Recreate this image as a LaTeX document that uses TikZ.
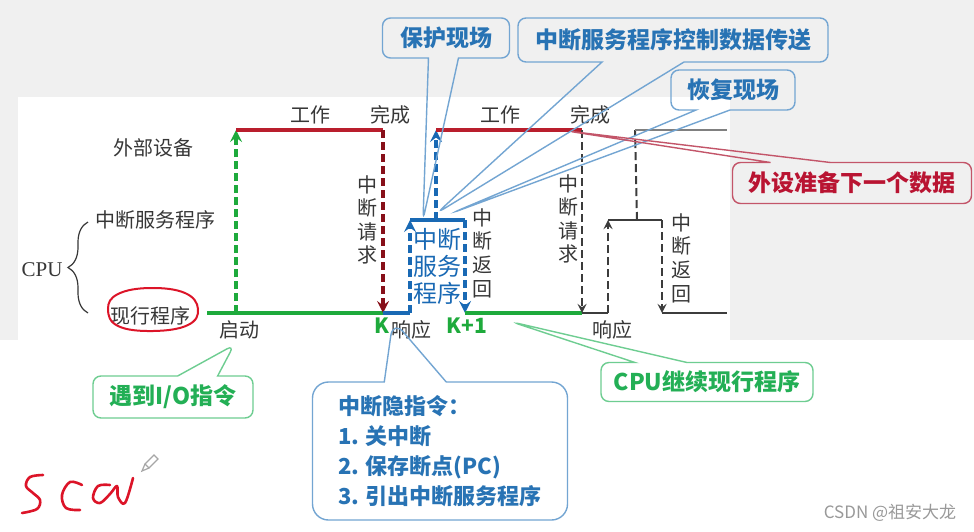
\documentclass[tikz,border=0pt]{standalone}
\usepackage{fontspec}
\setmainfont{Noto Sans CJK SC}
\newfontfamily\serifcpu{Liberation Serif}
\usetikzlibrary{shapes.callouts, decorations.pathreplacing}

\definecolor{pagegray}{RGB}{240,240,240}
\definecolor{labelgray}{RGB}{55,55,55}
\definecolor{darkline}{RGB}{60,60,60}
\definecolor{devred}{RGB}{185,30,45}
\definecolor{reqred}{RGB}{135,15,25}
\definecolor{cpugreen}{RGB}{30,170,60}
\definecolor{isrblue}{RGB}{25,105,180}
\definecolor{noteblue}{RGB}{40,115,180}
\definecolor{noteedge}{RGB}{115,165,210}
\definecolor{notegreen}{RGB}{35,175,85}
\definecolor{greenedge}{RGB}{110,205,145}
\definecolor{notered}{RGB}{185,20,50}
\definecolor{rededge}{RGB}{195,85,105}
\definecolor{handred}{RGB}{220,20,40}

\begin{document}
\begin{tikzpicture}[
    x=0.5pt, y=-0.5pt,
    lbl/.style={font=\fontsize{10}{11.8}\selectfont, text=labelgray, inner sep=0pt, align=center},
    kmark/.style={font=\fontsize{10.5}{12}\selectfont\bfseries, text=cpugreen, inner sep=0pt},
    level/.style={line width=2pt},
    jump/.style={->, >=stealth, dashed, dash pattern=on 4pt off 2pt, line width=1.6pt},
    note/.style={rectangle callout, draw, rounded corners=4pt, line width=0.7pt, inner sep=0pt, font=\fontsize{11.5}{14}\selectfont\bfseries}
]
    % background of the slide
    \fill[pagegray] (0,0) rectangle (974,531);
    \fill[white] (18,97) rectangle (730,340);
    \fill[white] (0,340) rectangle (974,531);

    % time points
    \coordinate (b0) at (207,313);
    \coordinate (st) at (236,313);
    \coordinate (stT) at (236,130);
    \coordinate (kB) at (383,313);
    \coordinate (kT) at (383,130);
    \coordinate (rB) at (410,313);
    \coordinate (rM) at (410,220);
    \coordinate (iM) at (436,220);
    \coordinate (iT) at (436,130);
    \coordinate (eM) at (465,220);
    \coordinate (eB) at (465,313);
    \coordinate (qT) at (582,130);
    \coordinate (qB) at (582,313);
    \coordinate (sB) at (608,313);
    \coordinate (sM) at (608,220);
    \coordinate (pM) at (637,220);
    \coordinate (pT) at (635,130);
    \coordinate (fM) at (662,220);
    \coordinate (fB) at (662,313);
    \coordinate (gT) at (727,130);
    \coordinate (gB) at (727,313);

    % row labels
    \node[lbl] (dev) at (153,148) {外部设备};
    \node[lbl] (isr) at (155,220) {中断服务程序};
    \node[lbl, font=\serifcpu\fontsize{10.5}{12}\selectfont] (cpu) at (42,270) {CPU};
    \node[lbl] (cur) at (150,316) {现行程序};
    \draw[decorate, decoration={brace, amplitude=10pt}, labelgray, line width=0.6pt] (88,313) -- (88,222);
    \draw[handred, line width=1pt] plot[smooth cycle, tension=0.7] coordinates {(108,309) (118,294) (150,288) (185,293) (198,309) (188,325) (153,331) (118,326)};

    % first transfer
    \draw[level, cpugreen] (b0) -- (kB);
    \draw[jump, cpugreen] (st) -- (stT);
    \draw[level, devred] (stT) -- (kT);
    \draw[jump, reqred] (kT) -- (kB);
    \draw[level, isrblue] (kB) -- (rB);
    \draw[jump, isrblue] (rB) -- (rM);
    \draw[level, isrblue] (rM) -- (eM);
    \draw[jump, isrblue] (eM) -- (eB);
    \draw[jump, isrblue] (iM) -- (iT);
    \draw[level, devred] (iT) -- (qT);
    \draw[level, cpugreen] (eB) -- (qB);

    % second transfer
    \draw[jump, darkline, line width=1pt] (qT) -- (qB);
    \draw[darkline, line width=1.1pt] (qB) -- (sB);
    \draw[jump, darkline, line width=1pt] (sB) -- (sM);
    \draw[darkline, line width=1.1pt] (sM) -- (fM);
    \draw[jump, darkline, line width=1pt] (fM) -- (fB);
    \draw[darkline, line width=1.1pt] (fB) -- (gB);
    \draw[dashed, dash pattern=on 4pt off 2pt, darkline, line width=1pt] (pM) -- (pT);
    \draw[gray, line width=1.1pt] (pT) -- (gT);

    % labels on the time line
    \node[lbl] (work1) at (310,115) {工作};
    \node[lbl] (done1) at (390,115) {完成};
    \node[lbl] (work2) at (500,115) {工作};
    \node[lbl] (done2) at (590,115) {完成};
    \node[lbl] (start) at (239,330) {启动};
    \node[lbl] (resp1) at (411,330) {响应};
    \node[lbl] (resp2) at (612,330) {响应};
    \node[kmark] (k) at (382,326) {K};
    \node[kmark] (k1) at (467,326) {K+1};
    \node[lbl] (req1) at (367,220) {中\\断\\请\\求};
    \node[lbl] (req2) at (568,219) {中\\断\\请\\求};
    \node[lbl] (ret1) at (482,253) {中\\断\\返\\回};
    \node[lbl] (ret2) at (681,258) {中\\断\\返\\回};
    \node[lbl, text=isrblue, font=\fontsize{12}{13.5}\selectfont] (isrbox) at (437,266) {中断\\服务\\程序};

    % callout tips
    \coordinate (tProt) at (423,220);
    \coordinate (tCtrl) at (437,213);
    \coordinate (tRest) at (452,213);
    \coordinate (tNext) at (567,131);
    \coordinate (tIO) at (234,345);
    \coordinate (tHid) at (393,320);
    \coordinate (tGo) at (512,322);

    % callouts
    \node[note, draw=noteedge, text=noteblue, minimum width=63.5pt, minimum height=20pt,
          callout absolute pointer={(tProt)}, callout pointer width=15pt] (prot) at (446,38) {保护现场};
    \node[note, draw=noteedge, text=noteblue, minimum width=155pt, minimum height=22pt,
          callout absolute pointer={(tCtrl)}, callout pointer width=41pt] (ctrl) at (673,40) {中断服务程序控制数据传送};
    \node[note, draw=noteedge, text=noteblue, minimum width=62pt, minimum height=20pt,
          callout absolute pointer={(tRest)}, callout pointer width=17pt] (rest) at (733,90) {恢复现场};
    \node[note, draw=rededge, text=notered, minimum width=119.5pt, minimum height=20.5pt,
          callout absolute pointer={(tNext)}, callout pointer width=30pt] (next) at (852,183) {外设准备下一个数据};
    \node[note, draw=greenedge, text=notegreen, minimum width=80pt, minimum height=21pt,
          callout absolute pointer={(tIO)}, callout pointer width=20pt] (io) at (173,397) {遇到I/O指令};
    \node[note, draw=noteedge, text=noteblue, align=left, font=\fontsize{11}{15}\selectfont\bfseries,
          minimum width=127.5pt, minimum height=69pt, rounded corners=8pt,
          callout absolute pointer={(tHid)}, callout pointer width=31pt] (hid) at (440,451)
          {中断隐指令：\\1. 关中断\\2. 保存断点(PC)\\3. 引出中断服务程序};
    \node[note, draw=greenedge, text=notegreen, minimum width=106pt, minimum height=19.5pt,
          callout absolute pointer={(tGo)}, callout pointer width=26pt] (go) at (707,382) {CPU继续现行程序};

    % handwriting and cursor
    \begin{scope}[handred, line width=1.3pt, line cap=round, line join=round]
        \draw plot[smooth, tension=0.6] coordinates {(43,475) (30,477) (26,486) (33,493) (40,500) (37,509) (22,513)};
        \draw plot[smooth, tension=0.6] coordinates {(82,485) (70,482) (62,495) (66,508) (80,510)};
        \draw plot[smooth, tension=0.6] coordinates {(110,485) (98,486) (93,498) (100,503) (110,494) (117,486) (118,497) (125,503) (133,478)};
    \end{scope}
    \draw[gray!70, line width=0.6pt] (145,464) -- (154,455) -- (158,459) -- (149,468) -- cycle;
    \draw[gray!70, line width=0.6pt] (145,464) -- (142,471) -- (149,468);

    % watermark
    \node[font=\fontsize{8.5}{10}\selectfont, text=gray!80] (mark) at (890,513) {CSDN @祖安大龙};
\end{tikzpicture}
\end{document}
